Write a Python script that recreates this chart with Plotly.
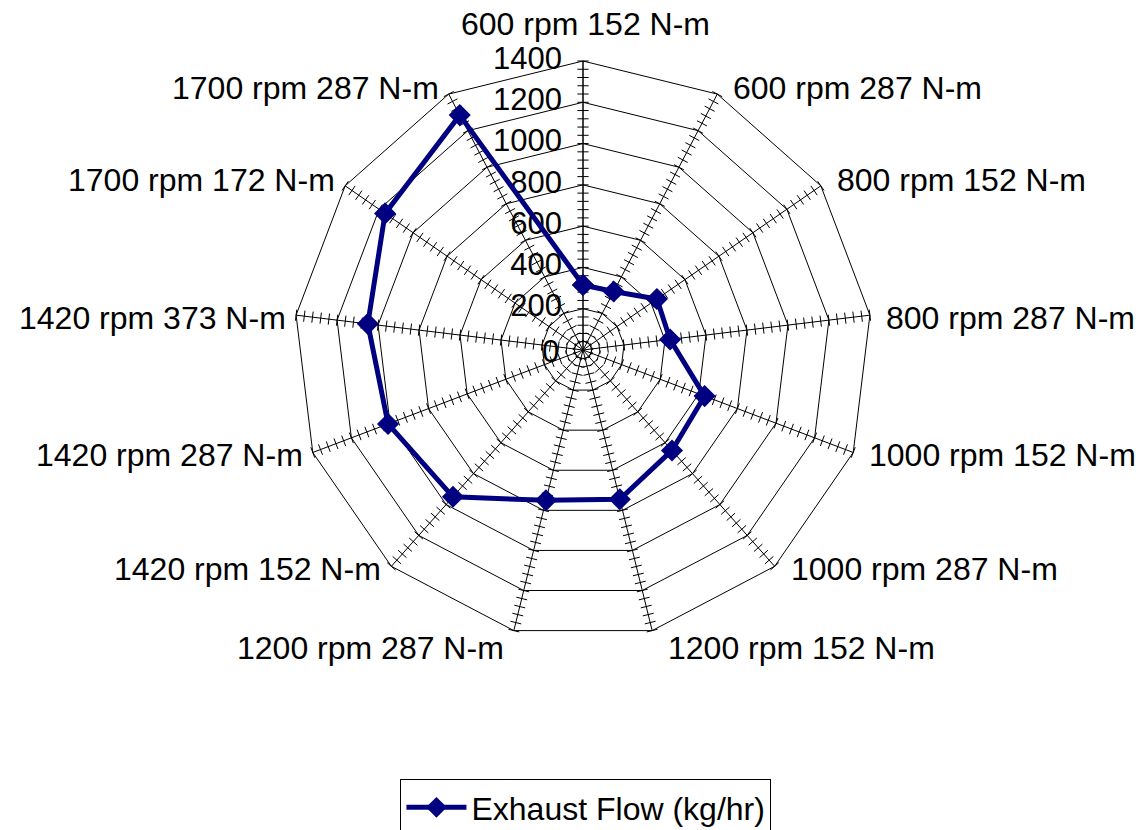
import math
import plotly.graph_objects as go

categories = ["600 rpm 152 N-m", "600 rpm 287 N-m", "800 rpm 152 N-m", "800 rpm 287 N-m",
              "1000 rpm 152 N-m", "1000 rpm 287 N-m", "1200 rpm 152 N-m", "1200 rpm 287 N-m",
              "1420 rpm 152 N-m", "1420 rpm 287 N-m", "1420 rpm 373 N-m", "1700 rpm 172 N-m",
              "1700 rpm 287 N-m"]
exhaust_flow = [315, 320, 435, 425, 630, 650, 745, 750, 950, 1010, 1050, 1165, 1285]
series_name = "Exhaust Flow (kg/hr)"
radial_ticks = [0, 200, 400, 600, 800, 1000, 1200, 1400]
radial_tick_labels = ["0", "200", "400", "600", "800", "1000", "1200", "1400"]
radial_max = 1400
minor_step = 40

W, H = 1140, 830
cx, cy, R = 583, 350, 289
FONT = "Liberation Sans, Arial, sans-serif"

fig = go.Figure()

# tick marks crossing every spoke (Excel-style category-axis ticks)
n = len(categories)
tick_r, tick_t, tick_a = [], [], []
for i, c in enumerate(categories):
    k = minor_step
    while k <= radial_max:
        tick_r.append(k)
        tick_t.append(c)
        tick_a.append(360.0 * i / n)
        k += minor_step
fig.add_trace(go.Scatterpolar(
    r=tick_r, theta=tick_t, mode="markers", showlegend=False, hoverinfo="skip",
    marker=dict(symbol="line-ew", size=8, angle=tick_a,
                line=dict(color="black", width=1), color="black"),
))

# radial value labels, left of the vertical axis (drawn below the data line)
fig.add_trace(go.Scatterpolar(
    r=radial_ticks[1:], theta=[categories[0]] * (len(radial_ticks) - 1),
    mode="markers+text", text=radial_tick_labels[1:], textposition="middle left",
    textfont=dict(size=31, family=FONT, color="black"),
    marker=dict(size=32, color="rgba(0,0,0,0)"),
    cliponaxis=False,
    showlegend=False, hoverinfo="skip",
))

fig.add_trace(go.Scatterpolar(
    r=exhaust_flow + exhaust_flow[:1], theta=categories + categories[:1],
    mode="lines+markers", name=series_name,
    line=dict(color="#000080", width=5),
    marker=dict(symbol="diamond", size=17, color="#000080"),
))

# category labels placed Excel-style around the outer polygon
annotations = []
for i, c in enumerate(categories):
    th = 2 * math.pi * i / n
    s, co = math.sin(th), math.cos(th)
    vx, vy = cx + R * s, cy - R * co
    if abs(s) < 1e-6:
        x, y, xa = vx + 2, vy - 37, "center"
    else:
        if co > 0.3:
            dy = -6
        elif co < -0.9:
            dy = 17
        else:
            dy = 3
        if s > 0:
            x, xa = vx + 14, "left"
        else:
            x, xa = vx - 8, "right"
        y = vy + dy
    annotations.append(dict(
        text=c, x=x / W, y=1 - y / H, xref="paper", yref="paper",
        xanchor=xa, yanchor="middle", showarrow=False,
        font=dict(size=32, family=FONT, color="black"),
    ))

# the "0" value label at the centre of the radial axis
annotations.append(dict(
    text=radial_tick_labels[0], x=(cx - 22) / W, y=1 - (cy + 1) / H,
    xref="paper", yref="paper", xanchor="right", yanchor="middle", showarrow=False,
    font=dict(size=31, family=FONT, color="black"),
))

fig.update_layout(
    width=W, height=H,
    margin=dict(l=0, r=0, t=0, b=0, autoexpand=False),
    paper_bgcolor="white",
    font=dict(family=FONT, color="black", size=32),
    annotations=annotations,
    polar=dict(
        domain=dict(x=[(cx - R) / W, (cx + R) / W], y=[(H - cy - R) / H, (H - cy + R) / H]),
        bgcolor="white",
        gridshape="linear",
        angularaxis=dict(
            categoryorder="array", categoryarray=categories,
            direction="clockwise", rotation=90,
            showgrid=True, gridcolor="black", gridwidth=1,
            showline=True, linecolor="black", linewidth=1,
            ticks="", showticklabels=False,
        ),
        radialaxis=dict(
            range=[0, radial_max], tickvals=radial_ticks,
            angle=90, side="counterclockwise",
            showgrid=True, gridcolor="black", gridwidth=1,
            showline=True, linecolor="black", linewidth=1,
            ticks="", showticklabels=False, layer="below traces",
        ),
    ),
    showlegend=True,
    legend=dict(
        orientation="h", x=0.514, xanchor="center",
        y=1 - 779 / H, yanchor="top",
        bordercolor="black", borderwidth=1, bgcolor="white",
        itemwidth=60,
        font=dict(size=32),
    ),
)

fig.write_html("out.html")
